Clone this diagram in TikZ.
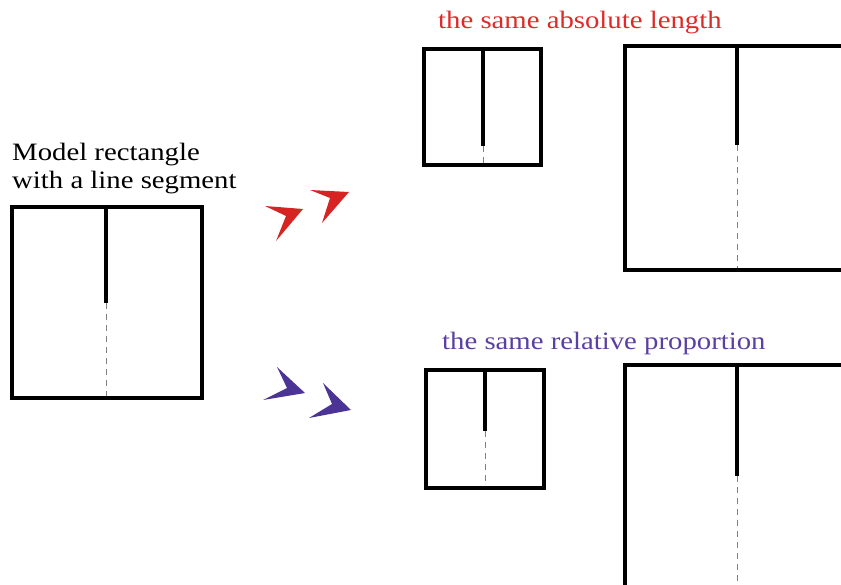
\documentclass[tikz,border=0pt]{standalone}
\usepackage{fontspec}
\setmainfont{Liberation Serif}[FakeStretch=1.15]

\definecolor{headred}{RGB}{222,42,40}
\definecolor{headpurple}{RGB}{90,64,160}
\definecolor{chevred}{RGB}{214,36,34}
\definecolor{chevpurple}{RGB}{76,52,150}

\begin{document}
\begin{tikzpicture}[x=1pt, y=-1pt, line join=miter, font=\fontsize{25}{28}\selectfont,
	frame/.style={draw=black, line width=4pt},
	seg/.style={black, line width=4pt},
	guide/.style={gray, line width=1pt, dash pattern=on 6pt off 5pt},
	label/.style={inner sep=0pt, anchor=base west, align=left}]

	\useasboundingbox (0,0) rectangle (841,585);
	\clip (0,0) rectangle (841,585);

	% Model rectangle with its line segment
	\draw[guide] (106,303) -- (106,398);
	\draw[seg] (106,207) -- (106,303);
	\draw[frame] (12,207) rectangle (202,398);
	\node[label] (model) at (12,189) {Model rectangle\\with a line segment};

	% Same absolute length: small and large copies
	\draw[guide] (483,146) -- (483,165);
	\draw[seg] (483,49) -- (483,146);
	\draw[frame] (424,49) rectangle (541,165);
	\draw[guide] (737,145) -- (737,270);
	\draw[seg] (737,46) -- (737,145);
	\draw[frame] (625,46) rectangle (849,270);
	\node[label, text=headred] (absolute) at (438,29) {the same absolute length};

	% Same relative proportion: small and large copies
	\draw[guide] (485,431) -- (485,488);
	\draw[seg] (485,370) -- (485,431);
	\draw[frame] (426,370) rectangle (544,488);
	\draw[guide] (737,476) -- (737,589);
	\draw[seg] (737,365) -- (737,476);
	\draw[frame] (625,365) rectangle (849,589);
	\node[label, text=headpurple] (relative) at (442,350) {the same relative proportion};

	% Chevrons
	\fill[chevred] (265,206) -- (303,209) -- (276,241) -- (286,216) -- cycle;
	\fill[chevred] (310,190) -- (349,192) -- (322,223) -- (330,198) -- cycle;
	\fill[chevpurple] (277,367) -- (305,393) -- (263,400) -- (287,388) -- cycle;
	\fill[chevpurple] (323,383) -- (351,410) -- (309,418) -- (332,404) -- cycle;

\end{tikzpicture}
\end{document}
